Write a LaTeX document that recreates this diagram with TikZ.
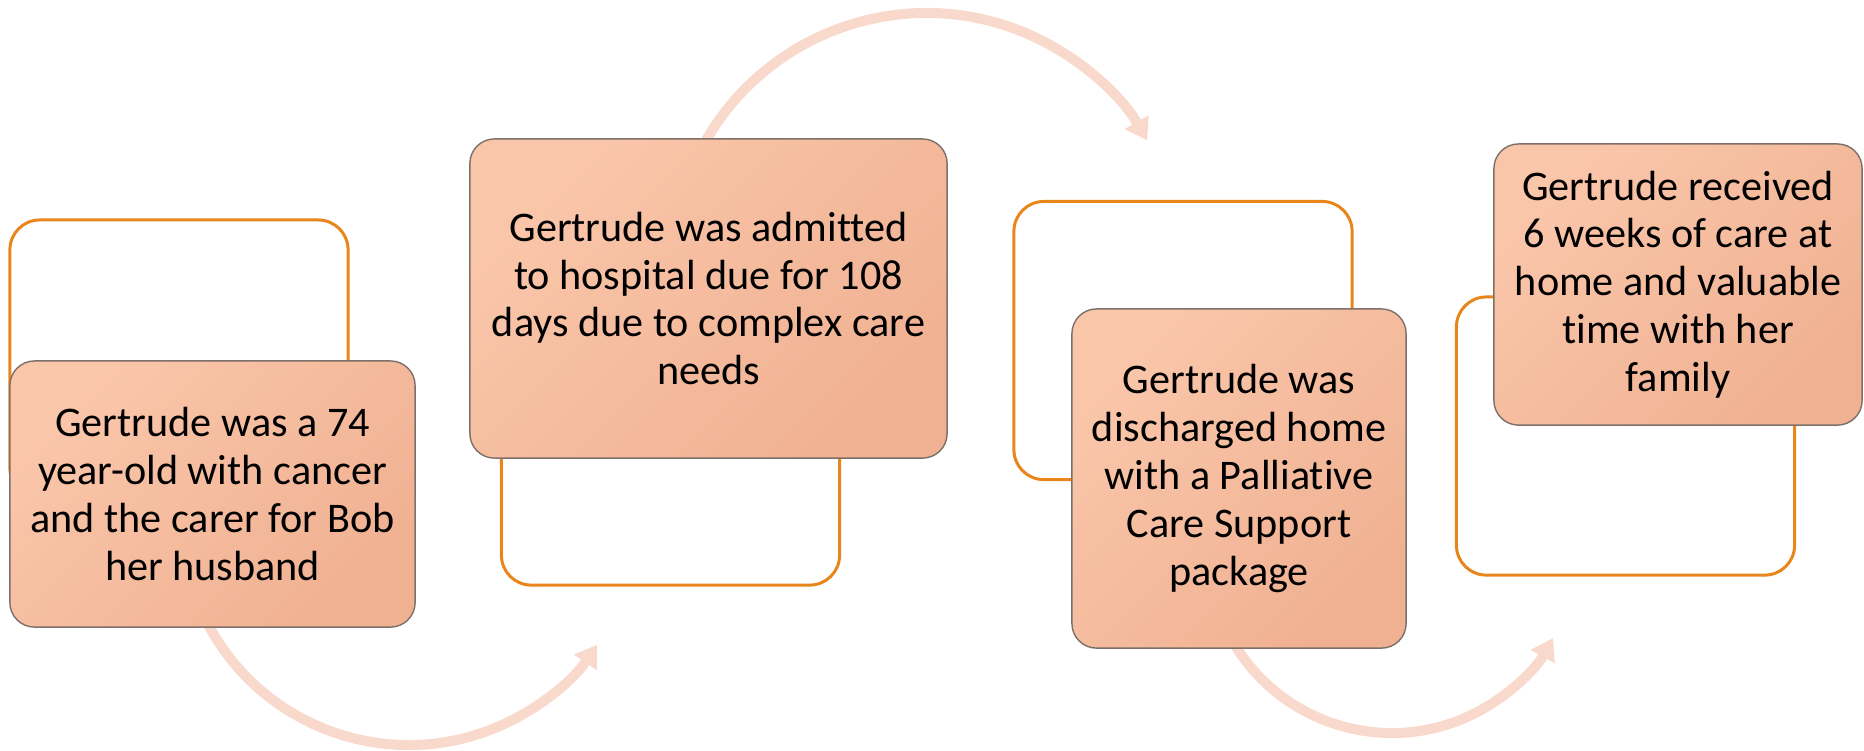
\documentclass[tikz,border=0pt]{standalone}
\usepackage{fontspec}
\setmainfont{Carlito}[Ligatures=NoCommon]
\usetikzlibrary{arrows.meta}
\definecolor{orangeline}{RGB}{232,134,28}
\definecolor{boxA}{RGB}{250,198,170}
\definecolor{boxM}{RGB}{247,195,170}
\definecolor{boxB}{RGB}{240,177,146}
\definecolor{arrowc}{RGB}{248,217,204}
\definecolor{boxborder}{RGB}{125,112,105}
\begin{document}
\begin{tikzpicture}[x=0.01cm,y=-0.01cm,
  outlinebox/.style={draw=orangeline, line width=0.85pt, rounded corners=8.5pt,
    minimum width=3.38cm, minimum height=2.78cm, inner sep=0pt},
  fillbox/.style={draw=boxborder, line width=0.4pt, rounded corners=7pt,
    top color=boxA, middle color=boxM, bottom color=boxB, shading angle=45,
    align=center, inner sep=0pt, font=\fontsize{12}{13.6}\selectfont},
  flowarrow/.style={draw=arrowc, line width=2.85pt,
    -{Triangle[length=6pt,width=7.5pt]}}]
\useasboundingbox (0,0) rectangle (1864,750);

% arrows (behind boxes)
\coordinate (c1) at (408.7,517.8);
\coordinate (c2) at (926.6,267.7);
\coordinate (c3) at (1391.9,548.9);
\draw[flowarrow] (c1) ++(156:227.2) arc[start angle=156, end angle=34, radius=227.2];
\draw[flowarrow] (c2) ++(206:254.7) arc[start angle=206, end angle=330, radius=254.7];
\draw[flowarrow] (c3) ++(151:184.1) arc[start angle=151, end angle=29, radius=184.1];

% outline boxes
\node[outlinebox] (o1) at (179,359) {};
\node[outlinebox] (o2) at (670.5,446) {};
\node[outlinebox] (o3) at (1183,340.5) {};
\node[outlinebox] (o4) at (1625.5,436) {};

% filled boxes
\node[fillbox, minimum width=4.05cm, minimum height=2.66cm] (b1) at (212.5,494)
  {Gertrude was a 74\\year-old with cancer\\and the carer for Bob\\her husband};
\node[fillbox, minimum width=4.77cm, minimum height=3.19cm] (b2) at (708.5,298.5)
  {Gertrude was admitted\\to hospital due for 108\\days due to complex care\\needs};
\node[fillbox, minimum width=3.34cm, minimum height=3.39cm] (b3) at (1239,478.5)
  {Gertrude was\\discharged home\\with a Palliative\\Care Support\\package};
\node[fillbox, minimum width=3.68cm, minimum height=2.81cm] (b4) at (1678,284.5)
  {Gertrude received\\6 weeks of care at\\home and valuable\\time with her\\family};
\end{tikzpicture}
\end{document}
